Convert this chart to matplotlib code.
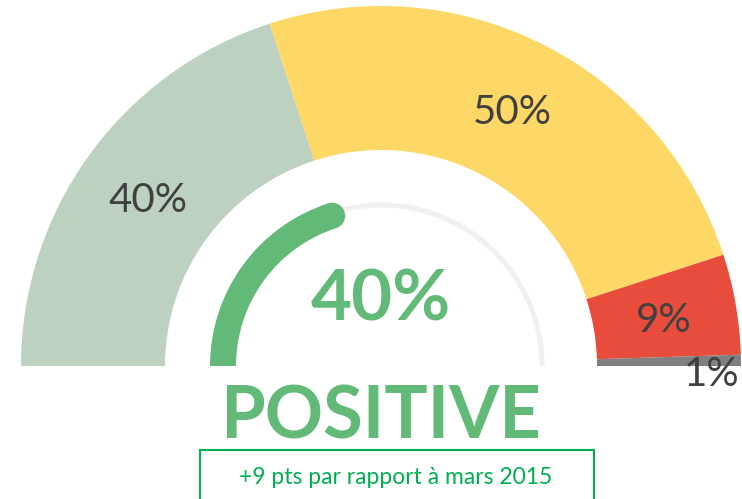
import numpy as np
import matplotlib.pyplot as plt
from matplotlib.patches import Wedge, Circle, Rectangle

# segments of the half donut (percent)
segments = [40, 50, 9, 1]
seg_labels = ['40%', '50%', '9%', '1%']
seg_colors = ['#bcd1bf', '#fed866', '#e74c3c', '#808080']
gauge_value = 40
gauge_text = '40%'
status = 'POSITIVE'
note = '+9 pts par rapport à mars 2015'

W, H = 742, 499
cx, cy = 381, H - 366
r_out, r_in = 360, 216

plt.rcParams['font.family'] = ['Lato', 'DejaVu Sans']
fig = plt.figure(figsize=(W / 100, H / 100), dpi=100)
ax = fig.add_axes([0, 0, 1, 1])

# invisible second half keeps the pie on the top half only
vals = segments + [sum(segments)]
wedges, _ = ax.pie(vals, colors=seg_colors + ['none'], startangle=180,
                   counterclock=False, radius=r_out, center=(cx, cy),
                   wedgeprops=dict(width=r_out - r_in, linewidth=0))
ax.set_xlim(0, W)
ax.set_ylim(0, H)
ax.set_aspect('equal')
ax.axis('off')

# labels on segments
label_pos = [(148, 200), (512, 112), (664, 320), (712, 375)]
for lab, (x, y) in zip(seg_labels, label_pos):
    ax.text(x, H - y, lab, fontsize=29, color='#404040', ha='center', va='center')

# inner gauge
track_r = 161
ax.add_patch(Wedge((cx, cy), track_r + 2.5, 0, 180, width=5, color='#f0f0f0', lw=0))
g_r, g_w = 158, 26
end_ang = 180 - gauge_value / 100 * 180
ax.add_patch(Wedge((cx, cy), g_r + g_w / 2, end_ang, 180, width=g_w, color='#63b978', lw=0))
ea = np.deg2rad(end_ang)
ax.add_patch(Circle((cx + g_r * np.cos(ea), cy + g_r * np.sin(ea)), g_w / 2,
                    color='#63b978', lw=0))

ax.text(cx, H - 300, gauge_text, fontsize=51, fontweight='bold', color='#63b978',
        ha='center', va='center')
ax.text(cx, H - 418, status, fontsize=52, fontweight='bold', color='#63b978',
        ha='center', va='center')

# note box
ax.add_patch(Rectangle((200, H - 510), 394, 60, fill=False, edgecolor='#00b050', lw=1.5))
ax.text(396, H - 477, note, fontsize=16.5, color='#00b050', ha='center', va='center')

fig.savefig('out.png', dpi=100)
